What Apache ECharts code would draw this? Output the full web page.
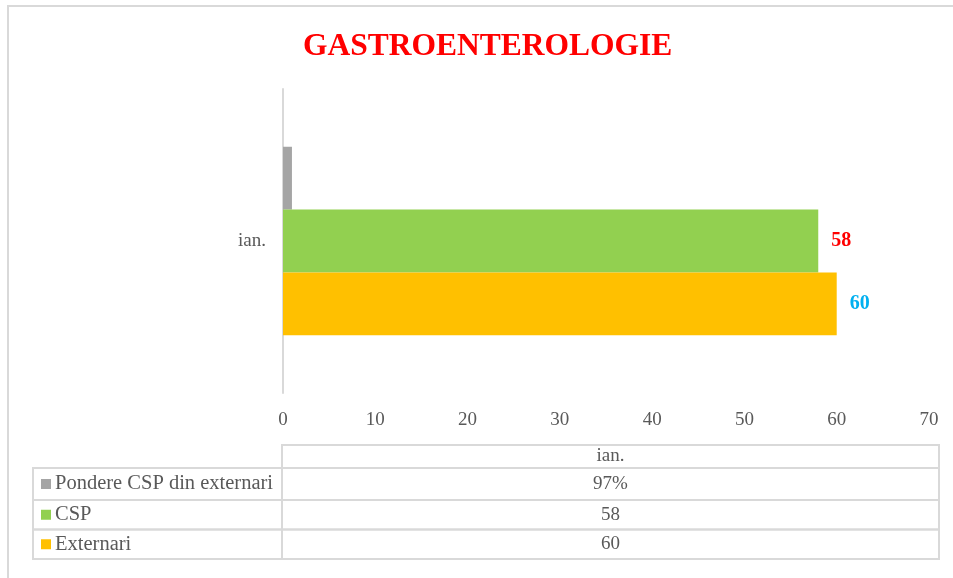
<!DOCTYPE html>
<html><head><meta charset="utf-8">
<script src="https://cdn.jsdelivr.net/npm/echarts@6/dist/echarts.min.js"></script>
<style>html,body{margin:0;padding:0;background:#fff}#c{width:953px;height:578px}</style>
</head><body><div id="c"></div>
<script>
const categories = ['ian.'];
const externari = [60];
const csp = [58];
const pondere = [0.97];
const xTicks = [0, 10, 20, 30, 40, 50, 60, 70];
const seriesNames = ['Pondere CSP din externari', 'CSP', 'Externari'];
const colors = {'Pondere CSP din externari': '#A5A5A5', 'CSP': '#92D050', 'Externari': '#FFC000'};
const tableValues = {
  'Pondere CSP din externari': pondere.map(v => Math.round(v * 100) + '%'),
  'CSP': csp.map(String),
  'Externari': externari.map(String)
};

const FONT = 'Liberation Serif';
const TXT = '#595959';
const BORDER = '#d9d9d9';

const chart = echarts.init(document.getElementById('c'));

// table geometry
const tblLeft = 33, tblDiv = 282, tblRight = 939;
const headTop = 445, headBottom = 468;
const rowH = [32, 29.5, 29.5];

const graphics = [];
graphics.push({type:'rect', shape:{x:8, y:6, width:1000, height:700}, style:{fill:'none', stroke:BORDER, lineWidth:2}, silent:true});
graphics.push({type:'rect', shape:{x:tblDiv, y:headTop, width:tblRight-tblDiv, height:headBottom-headTop}, style:{fill:'none', stroke:BORDER, lineWidth:2}});
graphics.push({type:'text', x:(tblDiv+tblRight)/2, y:(headTop+headBottom)/2, style:{text:categories[0], font:'19px "'+FONT+'"', fill:TXT, textAlign:'center', textVerticalAlign:'middle'}});
let y = headBottom;
seriesNames.forEach((name, i) => {
  const h = rowH[i];
  graphics.push({type:'rect', shape:{x:tblLeft, y:y, width:tblDiv-tblLeft, height:h}, style:{fill:'none', stroke:BORDER, lineWidth:2}});
  graphics.push({type:'rect', shape:{x:tblDiv, y:y, width:tblRight-tblDiv, height:h}, style:{fill:'none', stroke:BORDER, lineWidth:2}});
  graphics.push({type:'rect', shape:{x:41, y:y+h/2-5, width:10, height:10}, style:{fill:colors[name]}});
  graphics.push({type:'text', x:55, y:y+h/2, style:{text:name, font:'20.5px "'+FONT+'"', fill:TXT, textAlign:'left', textVerticalAlign:'middle'}});
  graphics.push({type:'text', x:(tblDiv+tblRight)/2, y:y+h/2, style:{text:tableValues[name][0], font:'19px "'+FONT+'"', fill:TXT, textAlign:'center', textVerticalAlign:'middle'}});
  y += h;
});

chart.setOption({
  animation:false,
  backgroundColor:'#fff',
  title:{text:'GASTROENTEROLOGIE', left:303, top:31, padding:0, textStyle:{fontFamily:FONT, fontSize:31.5, fontWeight:'bold', color:'#FF0000'}},
  grid:{left:283, right:24, top:89, bottom:185, containLabel:false},
  xAxis:{type:'value', min:xTicks[0], max:xTicks[xTicks.length-1], interval:10,
    axisLine:{show:false}, axisTick:{show:false}, splitLine:{show:false},
    axisLabel:{margin:18, fontFamily:FONT, fontSize:19, color:TXT}},
  yAxis:{type:'category', data:categories,
    axisLine:{show:true, lineStyle:{color:BORDER, width:2}}, axisTick:{show:false},
    axisLabel:{margin:17, fontFamily:FONT, fontSize:19, color:TXT}},
  series:[
    {name:'Pondere CSP din externari', type:'bar', data:pondere, barGap:'0%', barCategoryGap:'38%', itemStyle:{color:colors['Pondere CSP din externari']}},
    {name:'CSP', type:'bar', data:csp, barGap:'0%', barCategoryGap:'38%', itemStyle:{color:colors['CSP']},
      label:{show:true, position:'right', distance:13, fontFamily:FONT, fontSize:20, fontWeight:'bold', color:'#FF0000'}},
    {name:'Externari', type:'bar', data:externari, barGap:'0%', barCategoryGap:'38%', itemStyle:{color:colors['Externari']},
      label:{show:true, position:'right', distance:13, fontFamily:FONT, fontSize:20, fontWeight:'bold', color:'#00B0F0'}}
  ],
  graphic:graphics
});
</script></body></html>
